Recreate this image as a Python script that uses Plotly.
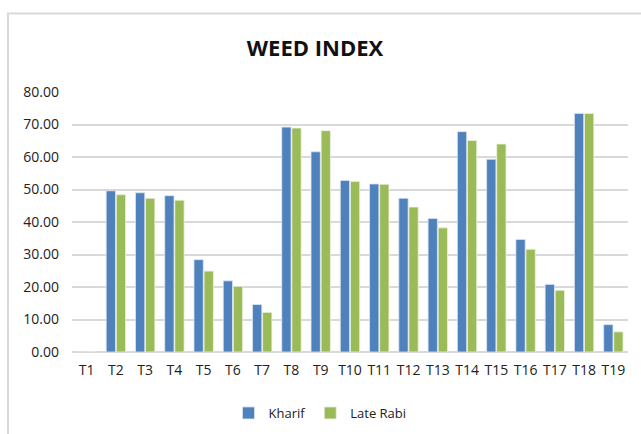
import plotly.graph_objects as go

categories = [f"T{i}" for i in range(1, 20)]
kharif = [0, 49.6, 49.0, 48.1, 28.4, 21.9, 14.6, 69.2, 61.6, 52.8, 51.7, 47.3, 41.1, 67.8, 59.3, 34.6, 20.8, 73.4, 8.4]
late_rabi = [0, 48.4, 47.3, 46.7, 24.9, 20.2, 12.2, 68.9, 68.1, 52.5, 51.6, 44.6, 38.2, 65.1, 64.0, 31.6, 19.0, 73.4, 6.2]
y_ticks = [0, 10, 20, 30, 40, 50, 60, 70, 80]

W, H = 641, 434
ML, MR, MT, MB = 72, 13, 92, 82
pw = W - ML - MR
ph = H - MT - MB

def px_x(p):
    return (p - ML) / pw

def px_y(p):
    return (H - MB - p) / ph

fig = go.Figure()
fig.add_trace(go.Bar(x=categories, y=kharif, name="Kharif",
                     marker=dict(color="#4F81BD", line=dict(color="#dbe5f1", width=0.8))))
fig.add_trace(go.Bar(x=categories, y=late_rabi, name="Late Rabi",
                     marker=dict(color="#9BBB59", line=dict(color="#ebf1de", width=0.8))))

fig.update_layout(
    width=W, height=H,
    margin=dict(l=ML, r=MR, t=MT, b=MB, autoexpand=False),
    paper_bgcolor="white", plot_bgcolor="white",
    font=dict(family="Open Sans, sans-serif", size=14, color="#222222"),
    barmode="group", bargap=0.31, bargroupgap=0.08,
    title=dict(text="<b>WEED INDEX</b>", x=315 / W, xanchor="center",
               y=1 - 48 / H, yanchor="middle",
               font=dict(family="Open Sans, sans-serif", size=22, color="#111111")),
    showlegend=True,
    legend=dict(orientation="h", x=px_x(320), xanchor="center", y=px_y(413), yanchor="middle",
                font=dict(size=13), itemwidth=30, traceorder="normal"),
    xaxis=dict(tickfont=dict(size=14), showgrid=False, showline=False, ticks="",
               ticklabelstandoff=8),
    yaxis=dict(range=[0, 80], tickvals=y_ticks, tickformat=".2f", showgrid=True,
               gridcolor="#d9d9d9", gridwidth=1.5, zeroline=True, zerolinecolor="#d9d9d9",
               zerolinewidth=1.5, tickfont=dict(size=14), ticklabelstandoff=12),
    shapes=[dict(type="rect", xref="paper", yref="paper",
                 x0=px_x(8), x1=px_x(660), y0=px_y(460), y1=px_y(13.5),
                 line=dict(color="#d9d9d9", width=2), fillcolor="rgba(0,0,0,0)", layer="below")],
)

fig.write_html("out.html")
